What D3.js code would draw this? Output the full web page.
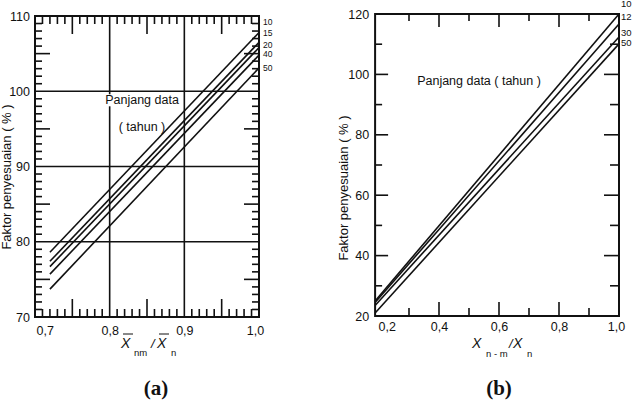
<!DOCTYPE html>
<html>
<head>
<meta charset="utf-8">
<script src="https://cdn.jsdelivr.net/npm/d3@7"></script>
<style>
  html, body { margin: 0; padding: 0; background: #fff; }
  svg { display: block; }
  text { font-family: Arial, "Liberation Sans", Helvetica, sans-serif; fill: #111; }
</style>
</head>
<body>
<svg id="chart" width="634" height="400"></svg>
<script>
// ---------- Data: panel (a) ----------
const seriesA = ["10", "15", "20", "40", "50"];          // Panjang data (tahun)
const xStartA = 0.72, xEndA = 1.0;
const startA = [78.6, 77.4, 76.7, 75.7, 73.7];           // Faktor at x = 0.72
const endA   = [107.8, 106.5, 105.8, 104.8, 103.1];      // Faktor at x = 1.0
const labelValA = [109.1, 107.6, 106.1, 104.8, 103.0];   // where each series label sits
const xTicksA = [0.7, 0.8, 0.9, 1.0];
const yTicksA = [70, 80, 90, 100, 110];
const xGridA = [0.8, 0.9];
const yGridA = [80, 90, 100];

// ---------- Data: panel (b) ----------
const seriesB = ["10", "12", "30", "50"];
const xStartB = 0.187, xEndB = 1.0;
const startB = [25.0, 24.5, 23.5, 21.0];
const endB   = [120.0, 116.7, 112.4, 110.1];
const labelValB = [123.0, 119.0, 113.7, 110.4];
const xTicksB = [0.2, 0.4, 0.6, 0.8, 1.0];
const yTicksB = [20, 40, 60, 80, 100, 120];

// frame tick values
const minorXA = d3.range(71, 100).filter(d => d % 5 !== 0).map(d => d / 100);
const midXA = [0.75, 0.85, 0.95];
const minorYA = d3.range(71, 110).filter(d => d % 5 !== 0);
const midYA = [75, 85, 95, 105];
const shortXB = [0.3, 0.5, 0.7, 0.9], longXB = [0.4, 0.6, 0.8];
const shortYB = [30, 50, 70, 90, 110], longYB = [40, 60, 80, 100];

const fmtComma = d => d3.format(".1f")(d).replace(".", ",");

const svg = d3.select("#chart");

// ---------- Scales ----------
const xA = d3.scaleLinear().domain([0.7, 1.0]).range([35, 259]);
const yA = d3.scaleLinear().domain([70, 110]).range([317, 16]);
const xB = d3.scaleLinear().domain([0.2, 1.0]).range([379, 619]);
const yB = d3.scaleLinear().domain([20, 120]).range([316, 14]);

const xa0 = xA(0.7), xa1 = xA(1.0), ya0 = yA(70), ya1 = yA(110);
const xb0 = xB(xStartB), xb1 = xB(1.0), yb0 = yB(20), yb1 = yB(120);

// tick segments in pixel space, built from the scales
function tickSegs(scale, values, edge, len, horiz) {
  return values.map(v => horiz
    ? [[scale(v), edge], [scale(v), edge + len]]
    : [[edge, scale(v)], [edge + len, scale(v)]]);
}
const segsA = [].concat(
  tickSegs(xA, minorXA, ya1, 8, true), tickSegs(xA, midXA, ya1, 18, true),
  tickSegs(xA, minorXA, ya0, -8, true), tickSegs(xA, midXA, ya0, -18, true),
  tickSegs(yA, minorYA, xa0, 7, false), tickSegs(yA, midYA, xa0, 15, false),
  tickSegs(yA, minorYA, xa1, -7, false), tickSegs(yA, midYA, xa1, -15, false));
const segsB = [].concat(
  tickSegs(xB, shortXB, yb1, 7, true), tickSegs(xB, longXB, yb1, 13, true),
  tickSegs(xB, shortXB, yb0, -8, true), tickSegs(xB, longXB, yb0, -14, true),
  tickSegs(yB, shortYB, xb0, 7, false), tickSegs(yB, longYB, xb0, 13, false),
  tickSegs(yB, shortYB, xb1, -9, false), tickSegs(yB, longYB, xb1, -15, false));

function labelAxis(g, axis, size) {
  g.call(axis);
  g.select(".domain").remove();
  g.selectAll(".tick line").remove();
  g.selectAll(".tick text").attr("font-size", size).attr("fill", "#111")
    .attr("font-family", "Arial, 'Liberation Sans', sans-serif");
}

const pixLine = d3.line();

// ================= Panel (a) marks =================
const gA = svg.append("g");
gA.selectAll("line.gx").data(xGridA).enter().append("line").attr("class", "gx")
  .attr("x1", d => xA(d)).attr("x2", d => xA(d)).attr("y1", ya1).attr("y2", ya0)
  .attr("stroke", "#111").attr("stroke-width", 1.6);
gA.selectAll("line.gy").data(yGridA).enter().append("line").attr("class", "gy")
  .attr("x1", xa0).attr("x2", xa1).attr("y1", d => yA(d)).attr("y2", d => yA(d))
  .attr("stroke", "#111").attr("stroke-width", 1.6);

const lineA = d3.line().x(d => xA(d[0])).y(d => yA(d[1]));
gA.selectAll("path.sa").data(seriesA.map((s, i) => [[xStartA, startA[i]], [xEndA, endA[i]]]))
  .enter().append("path").attr("class", "sa").attr("d", lineA)
  .attr("fill", "none").attr("stroke", "#111").attr("stroke-width", 1.6);

gA.append("rect").attr("x", xa0).attr("y", ya1).attr("width", xa1 - xa0).attr("height", ya0 - ya1)
  .attr("fill", "none").attr("stroke", "#111").attr("stroke-width", 2);

// ================= Panel (b) marks =================
const gB = svg.append("g");
const lineB = d3.line().x(d => xB(d[0])).y(d => yB(d[1]));
gB.selectAll("path.sb").data(seriesB.map((s, i) => [[xStartB, startB[i]], [xEndB, endB[i]]]))
  .enter().append("path").attr("class", "sb").attr("d", lineB)
  .attr("fill", "none").attr("stroke", "#111").attr("stroke-width", 1.6);

gB.append("rect").attr("x", xb0).attr("y", yb1).attr("width", xb1 - xb0).attr("height", yb0 - yb1)
  .attr("fill", "none").attr("stroke", "#111").attr("stroke-width", 2);

// ================= Panel (a) texts =================
const tgA = svg.append("g");
const bgA = tgA.append("rect").attr("fill", "#fff");
const pjA = tgA.append("text").attr("x", 142).attr("y", 101).attr("text-anchor", "middle")
  .attr("dominant-baseline", "middle").attr("font-size", 12.5).text("Panjang data");
const bb = pjA.node().getBBox();
bgA.attr("x", bb.x - 1).attr("y", bb.y + 1).attr("width", bb.width + 2).attr("height", Math.max(0, bb.height - 2));
tgA.append("text").attr("x", 142).attr("y", 128).attr("text-anchor", "middle")
  .attr("dominant-baseline", "middle").attr("font-size", 12.5).text("( tahun )");

tgA.selectAll("text.la").data(seriesA).enter().append("text").attr("class", "la")
  .attr("x", xa1 + 4).attr("y", (d, i) => yA(labelValA[i])).attr("dominant-baseline", "middle")
  .attr("font-size", 8.5).text(d => d);

labelAxis(tgA.append("g").attr("transform", `translate(${xa0},0)`),
  d3.axisLeft(yA).tickValues(yTicksA).tickSize(0).tickPadding(5).tickFormat(d3.format("d")), 12.5);
const xlabA = tgA.append("g").attr("transform", `translate(0,${ya0})`);
labelAxis(xlabA, d3.axisBottom(xA).tickValues(xTicksA).tickSize(0).tickPadding(9).tickFormat(fmtComma), 12.5);
xlabA.selectAll(".tick text").filter(d => d === 0.7).attr("text-anchor", "start").attr("dx", 1);
xlabA.selectAll(".tick text").filter(d => d === 1.0).attr("dx", -4);

tgA.append("text").attr("transform", "translate(8,177) rotate(-90)").attr("text-anchor", "middle")
  .attr("dominant-baseline", "middle").attr("font-size", 13).text("Faktor penyesuaian ( % )");

tgA.append("text").attr("x", 121).attr("y", 348).attr("font-size", 14).attr("font-style", "italic").text("X");
tgA.append("text").attr("x", 134).attr("y", 356).attr("font-size", 9.5).text("nm");
tgA.append("text").attr("x", 151).attr("y", 348).attr("font-size", 13).attr("font-style", "italic").text("/");
tgA.append("text").attr("x", 157).attr("y", 348).attr("font-size", 14).attr("font-style", "italic").text("X");
tgA.append("text").attr("x", 171).attr("y", 356).attr("font-size", 9.5).text("n");
tgA.append("path").attr("d", "M123,334H133M159,334H169").attr("stroke", "#111").attr("stroke-width", 1).attr("fill", "none");

tgA.append("text").attr("x", 156).attr("y", 390).attr("text-anchor", "middle").attr("dominant-baseline", "middle")
  .style("font-family", "'Liberation Serif', 'Times New Roman', serif")
  .attr("font-weight", "bold").attr("font-size", 21).text("(a)");

// ================= Panel (b) texts =================
const tgB = svg.append("g");
tgB.append("text").attr("x", 479).attr("y", 82).attr("text-anchor", "middle")
  .attr("dominant-baseline", "middle").attr("font-size", 12.5).text("Panjang data ( tahun )");

tgB.selectAll("text.lb").data(seriesB).enter().append("text").attr("class", "lb")
  .attr("x", xb1 + 2).attr("y", (d, i) => yB(labelValB[i])).attr("dominant-baseline", "middle")
  .attr("font-size", 9.5).text(d => d);

labelAxis(tgB.append("g").attr("transform", `translate(${xb0},0)`),
  d3.axisLeft(yB).tickValues(yTicksB).tickSize(0).tickPadding(6).tickFormat(d3.format("d")), 12.5);
const xlabB = tgB.append("g").attr("transform", `translate(0,${yb0})`);
labelAxis(xlabB, d3.axisBottom(xB).tickValues(xTicksB).tickSize(0).tickPadding(6).tickFormat(fmtComma), 12.5);
xlabB.selectAll(".tick text").filter(d => d === 0.2).attr("text-anchor", "start").attr("dx", -1);
xlabB.selectAll(".tick text").filter(d => d === 1.0).attr("dx", -3);

tgB.append("text").attr("transform", "translate(345,188) rotate(-90)").attr("text-anchor", "middle")
  .attr("dominant-baseline", "middle").attr("font-size", 13).text("Faktor penyesuaian ( % )");

tgB.append("text").attr("x", 472).attr("y", 348).attr("font-size", 14).attr("font-style", "italic").text("X");
tgB.append("text").attr("x", 486).attr("y", 357).attr("font-size", 9.5).text("n - m");
tgB.append("text").attr("x", 509).attr("y", 348).attr("font-size", 13).attr("font-style", "italic").text("/");
tgB.append("text").attr("x", 513).attr("y", 348).attr("font-size", 14).attr("font-style", "italic").text("X");
tgB.append("text").attr("x", 527).attr("y", 357).attr("font-size", 9.5).text("n");

tgB.append("text").attr("x", 499).attr("y", 390).attr("text-anchor", "middle").attr("dominant-baseline", "middle")
  .style("font-family", "'Liberation Serif', 'Times New Roman', serif")
  .attr("font-weight", "bold").attr("font-size", 21).text("(b)");

// ================= Frame ticks, drawn last on top =================
// each tick is its own <path>, drawn with d3.line like the data lines
const tickLayer = svg.append("g").attr("class", "frame-ticks");
tickLayer.selectAll("path.tka").data(segsA).enter().append("path").attr("class", "tka")
  .attr("d", pixLine).attr("fill", "none").attr("stroke", "#111").attr("stroke-width", 1.6);
tickLayer.selectAll("path.tkb").data(segsB).enter().append("path").attr("class", "tkb")
  .attr("d", pixLine).attr("fill", "none").attr("stroke", "#111").attr("stroke-width", 1.6);
</script>
</body>
</html>
